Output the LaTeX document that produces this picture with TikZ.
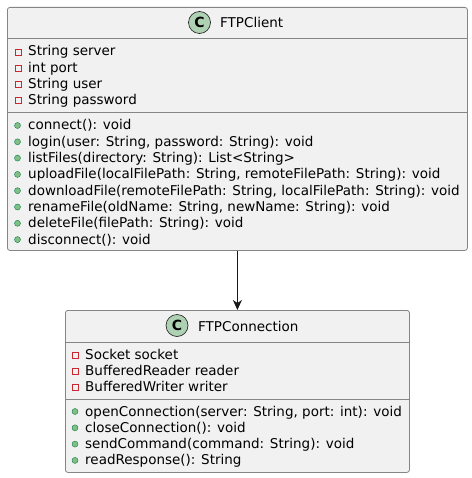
\documentclass[tikz,border=0pt]{standalone}
\usepackage{fontspec}
\setmainfont{DejaVu Sans}
\usetikzlibrary{arrows.meta}
\definecolor{boxfill}{HTML}{F1F1F1}
\definecolor{boxline}{HTML}{181818}
\definecolor{sepline}{HTML}{858585}
\definecolor{circfill}{HTML}{ADD1B2}
\definecolor{privred}{HTML}{C82930}
\definecolor{pubfill}{HTML}{84BE84}
\definecolor{publine}{HTML}{038048}

\begin{document}
\begin{tikzpicture}[x=1pt,y=-1pt,
		class box/.style={rectangle,draw=sepline,fill=boxfill,line width=0.8pt,rounded corners=2.5pt,anchor=north west,inner sep=0pt},
		class mark/.style={circle,draw=boxline,fill=circfill,line width=0.6pt,minimum size=22pt,inner sep=0pt,font=\bfseries\fontsize{14}{14}\selectfont},
		title text/.style={anchor=base west,inner sep=0pt,font=\fontsize{13.5}{16}\selectfont},
		member/.style={anchor=base west,inner sep=0pt,font=\fontsize{13.5}{16}\selectfont},
		private/.style={rectangle,draw=privred,line width=0.8pt,minimum size=6pt,inner sep=0pt},
		public/.style={circle,draw=publine,fill=pubfill,line width=0.4pt,minimum size=6pt,inner sep=0pt}]
		\useasboundingbox (0,0) rectangle (471,478);
		
		% FTPClient
		\node[class box, minimum width=460pt, minimum height=243pt] (client) at (7,7) {};
		\node[class mark] (clientC) at (199.5,22.5) {C};
		\node[title text] (clientName) at (220,28) {FTPClient};
		\draw[sepline, line width=0.8pt] (7,38) -- (467,38);
		\draw[sepline, line width=0.8pt] (7,112) -- (467,112);
		\foreach \txt [count=\i] in {String server, int port, String user, String password}
		{
			\node[private] (ca\i) at (18,{52+16.3*(\i-1)}) {};
			\node[member] (cat\i) at (28,{56+16.3*(\i-1)}) {\txt};
		}
		\foreach \txt [count=\i] in {{connect(): void},
			{login(user: String, password: String): void},
			{listFiles(directory: String): List<String>},
			{uploadFile(localFilePath: String, remoteFilePath: String): void},
			{downloadFile(remoteFilePath: String, localFilePath: String): void},
			{renameFile(oldName: String, newName: String): void},
			{deleteFile(filePath: String): void},
			{disconnect(): void}}
		{
			\node[public] (cm\i) at (17.5,{125.5+16.3*(\i-1)}) {};
			\node[member] (cmt\i) at (28,{130+16.3*(\i-1)}) {\txt};
		}
		
		% FTPConnection
		\node[class box, minimum width=344pt, minimum height=162pt] (conn) at (65,310) {};
		\node[class mark] (connC) at (177,325.5) {C};
		\node[title text] (connName) at (198,331) {FTPConnection};
		\draw[sepline, line width=0.8pt] (65,342) -- (409,342);
		\draw[sepline, line width=0.8pt] (65,399) -- (409,399);
		\foreach \txt [count=\i] in {Socket socket, BufferedReader reader, BufferedWriter writer}
		{
			\node[private] (na\i) at (75.5,{355+16.3*(\i-1)}) {};
			\node[member] (nat\i) at (85,{359+16.3*(\i-1)}) {\txt};
		}
		\foreach \txt [count=\i] in {{openConnection(server: String, port: int): void},
			{closeConnection(): void},
			{sendCommand(command: String): void},
			{readResponse(): String}}
		{
			\node[public] (nm\i) at (75,{411.5+16.3*(\i-1)}) {};
			\node[member] (nmt\i) at (85,{416+16.3*(\i-1)}) {\txt};
		}
		
		\draw[-{Stealth[length=10pt,width=9pt,inset=3pt]}, boxline, line width=1pt] (client.south) -- (client.south |- conn.north);
	\end{tikzpicture}
\end{document}
